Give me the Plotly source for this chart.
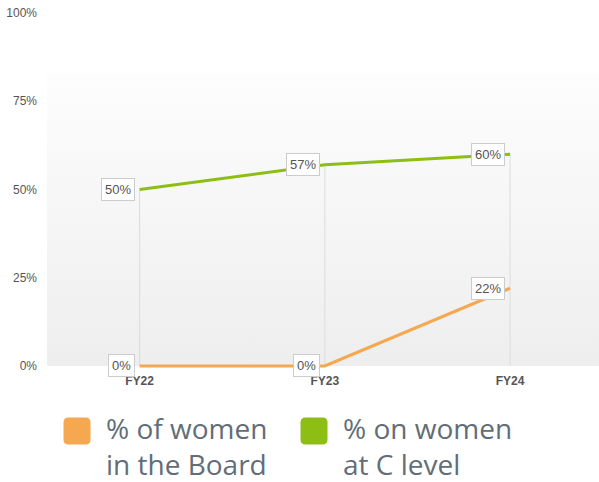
import plotly.graph_objects as go

# chart data
years = ["FY22", "FY23", "FY24"]
board_pct = [0, 0, 22]
c_level_pct = [50, 57, 60]
y_ticks = [0, 25, 50, 75, 100]

series_names = ["% of women<br>in the Board", "% on women<br>at C level"]
series_colors = ["#f5a84f", "#8dbe14"]

# layout helpers (pixels of the 599x482 page)
W, H = 599, 482
M_L, M_R, M_T, M_B = 47, 0, 13, 114
X_RANGE = [-0.5, 2.48]
Y_RANGE = [-0.6, 100]  # a little room so the 0% line is not clipped
BG_TOP = 83  # the grey gradient fades out here


def px_x(px):
    return (px - M_L) / (W - M_L - M_R)


def px_y(py):
    return (H - M_B - py) / (H - M_T - M_B)


xs = list(range(len(years)))

fig = go.Figure()

# background gradient
fig.add_trace(go.Scatter(
    x=[X_RANGE[0] - 1, X_RANGE[1] + 1, X_RANGE[1] + 1, X_RANGE[0] - 1],
    y=[0, 0, BG_TOP, BG_TOP],
    mode="lines", line=dict(width=0), fill="toself",
    fillgradient=dict(type="vertical", start=0, stop=BG_TOP,
                      colorscale=[[0, "#eeeeee"], [1, "#fdfdfd"]]),
    hoverinfo="skip", showlegend=False,
))

# drop lines from the top point to the axis
drop_x, drop_y = [], []
for i in xs:
    drop_x += [i, i, None]
    drop_y += [0, max(board_pct[i], c_level_pct[i]), None]
fig.add_trace(go.Scatter(x=drop_x, y=drop_y, mode="lines",
                         line=dict(color="#dcdcdc", width=1),
                         hoverinfo="skip", showlegend=False))

annotations = []
for vals, color in zip([board_pct, c_level_pct], series_colors):
    fig.add_trace(go.Scatter(x=xs, y=vals, mode="lines",
                             line=dict(color=color, width=3),
                             hoverinfo="skip", showlegend=False))
    for i, v in zip(xs, vals):
        annotations.append(dict(
            x=i, y=v, xref="x", yref="y", text=f"{v}%", showarrow=False,
            xanchor="right", yanchor="middle", xshift=-5,
            font=dict(family="Liberation Sans, Arial", size=13, color="#555555"),
            bgcolor="white", bordercolor="#cccccc", borderwidth=1, borderpad=3,
        ))

# legend, drawn by hand to get the big rounded squares
legend_sq = [(77, 431), (314, 431)]
legend_txt = [104, 341]
shapes = []
r, h = 5, 13.5
path = (f"M {-h + r},{-h} L {h - r},{-h} Q {h},{-h} {h},{-h + r} "
        f"L {h},{h - r} Q {h},{h} {h - r},{h} L {-h + r},{h} "
        f"Q {-h},{h} {-h},{h - r} L {-h},{-h + r} Q {-h},{-h} {-h + r},{-h} Z")
for (cx, cy), tx, name, color in zip(legend_sq, legend_txt, series_names, series_colors):
    shapes.append(dict(type="path", path=path, xref="paper", yref="paper",
                       xsizemode="pixel", ysizemode="pixel",
                       xanchor=px_x(cx), yanchor=px_y(cy),
                       fillcolor=color, line=dict(width=0)))
    annotations.append(dict(
        x=px_x(tx), y=px_y(446), xref="paper", yref="paper", text=name,
        showarrow=False, xanchor="left", yanchor="middle", align="left",
        font=dict(family="Open Sans", size=28, color="#626d78"),
    ))

fig.update_layout(
    width=W, height=H,
    margin=dict(l=M_L, r=M_R, t=M_T, b=M_B),
    paper_bgcolor="white", plot_bgcolor="white",
    showlegend=False,
    shapes=shapes,
    annotations=annotations,
    xaxis=dict(range=X_RANGE, tickvals=xs, ticktext=years,
               showgrid=False, zeroline=False, showline=False, ticks="",
               ticklabelstandoff=4,
               tickfont=dict(family="Liberation Sans, Arial", size=12,
                             color="#555555", weight="bold"),
               fixedrange=True),
    yaxis=dict(range=Y_RANGE, tickvals=y_ticks,
               ticktext=[f"{t}%" for t in y_ticks],
               showgrid=False, zeroline=False, showline=False, ticks="",
               ticklabelstandoff=9,
               tickfont=dict(family="Liberation Sans, Arial", size=12, color="#555555"),
               fixedrange=True),
)

# drop the default page margin so the figure sits at the window corner
fig.write_html("out.html", config={"displayModeBar": False},
               post_script="document.body.style.margin='0';")
